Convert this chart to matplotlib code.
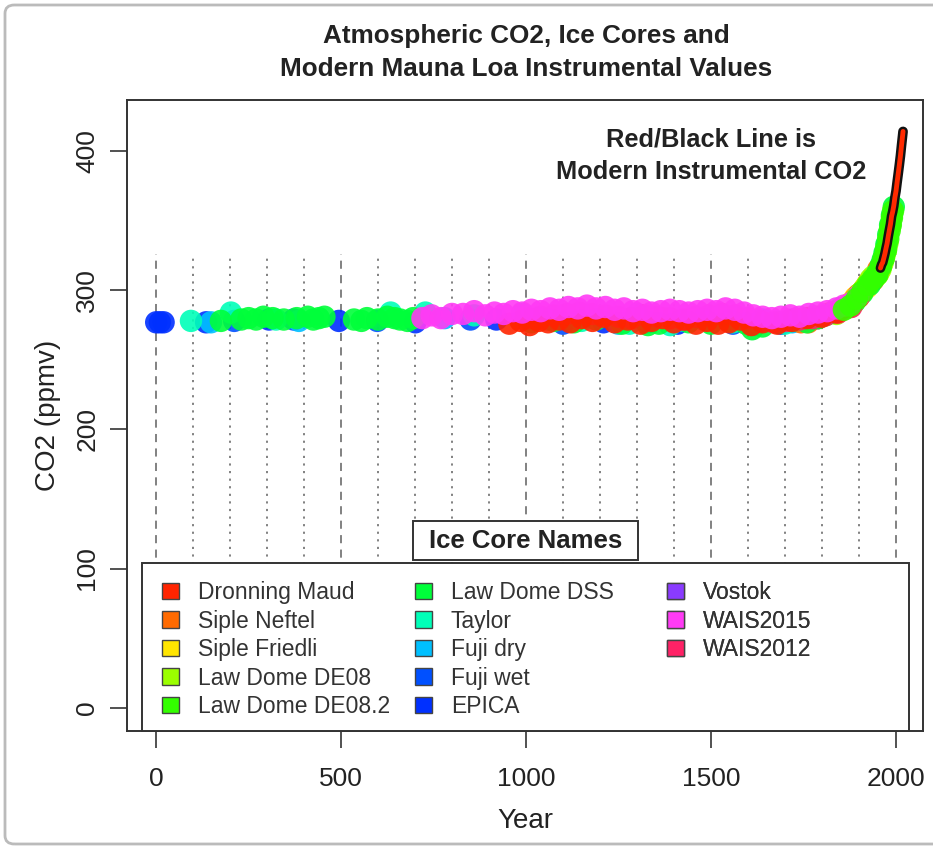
import matplotlib
matplotlib.use('Agg')
import matplotlib.pyplot as plt
from matplotlib.patches import Patch, Rectangle, FancyBboxPatch
import numpy as np

plt.rcParams['font.family'] = ['Liberation Sans', 'DejaVu Sans']

W, H = 933, 847

title = 'Atmospheric CO2, Ice Cores and\nModern Mauna Loa Instrumental Values'
note = 'Red/Black Line is\nModern Instrumental CO2'

names = ['Dronning Maud', 'Siple Neftel', 'Siple Friedli', 'Law Dome DE08',
         'Law Dome DE08.2', 'Law Dome DSS', 'Taylor', 'Fuji dry', 'Fuji wet',
         'EPICA', 'Vostok', 'WAIS2015', 'WAIS2012']
colors = ['#FF2400', '#FF6A00', '#FFE500', '#9BFF00', '#33FF00', '#00FF3A',
          '#00FFB8', '#00C0FF', '#0050FF', '#0030FF', '#8A3BFF', '#FF3BF5',
          '#FF2266']

# ice core samples (year, ppmv)
dm_year = [955, 985, 1010, 1035, 1060, 1090, 1120, 1150, 1180, 1210, 1240, 1275,
           1310, 1340, 1370, 1400, 1430, 1460, 1490, 1520, 1550, 1580, 1610,
           1640, 1680, 1720, 1760, 1800, 1840, 1870, 1900]
dm_co2 = [276, 278, 275, 278, 277, 279, 277, 280, 278, 281, 277, 279, 276, 278,
          280, 277, 279, 276, 278, 276, 277, 279, 275, 277, 276, 278, 280, 281,
          284, 288, 295]

neftel_year = [1744, 1764, 1791, 1816, 1834, 1863, 1879, 1891, 1900, 1915, 1925,
               1938, 1953]
neftel_co2 = [277, 277, 280, 283, 284, 287, 289, 294, 297, 301, 305, 307, 315]

friedli_year = [1734, 1756, 1773, 1789, 1807, 1826, 1841, 1857, 1873, 1883, 1891,
                1901, 1913, 1923, 1933, 1941, 1953]
friedli_co2 = [279, 278, 280, 281, 282, 284, 285, 287, 290, 292, 295, 297, 300,
               302, 306, 308, 313]

de08_year = [1840, 1850, 1865, 1877, 1887, 1892, 1900, 1905, 1912, 1920, 1926,
             1932, 1939, 1945, 1950, 1953, 1959, 1962, 1965, 1968, 1970, 1973,
             1975, 1978]
de08_co2 = [283, 285, 287, 288, 291, 294, 296, 298, 300, 303, 305, 308, 310, 310,
            311, 312, 315, 318, 320, 323, 325, 328, 331, 334]

de082_year = [1860, 1878, 1895, 1910, 1925, 1938, 1950, 1960, 1968, 1974, 1980,
              1984, 1987, 1990, 1993]
de082_co2 = [286, 289, 294, 299, 304, 308, 311, 317, 323, 329, 337, 343, 347,
             352, 357]

dss_year = [175, 230, 250, 270, 290, 315, 345, 380, 410, 425, 440, 455, 535, 555,
            570, 600, 625, 645, 660, 680, 695, 1015, 1075, 1130, 1190, 1260, 1330,
            1360, 1440, 1500, 1550, 1595, 1612, 1640, 1680, 1720, 1760, 1790,
            1810, 1830, 1850, 1870, 1890, 1910, 1930, 1940, 1950, 1960, 1965,
            1970, 1975, 1980, 1985, 1990, 1995]
dss_co2 = [278, 279, 280, 279, 281, 280, 279, 280, 281, 279, 280, 281, 279, 278,
           280, 279, 281, 280, 279, 278, 280, 277, 278, 277, 279, 276, 275, 276,
           277, 276, 278, 276, 272, 274, 277, 278, 277, 280, 282, 284, 286, 288,
           292, 298, 304, 308, 312, 318, 322, 327, 333, 340, 347, 354, 360]

taylor_year = [94, 202, 324, 634, 728, 860, 990, 1150, 1280, 1390, 1480, 1560,
               1700, 1780, 1850]
taylor_co2 = [278, 284, 279, 284, 284, 282, 283, 278, 276, 275, 279, 277, 276,
              281, 287]

fujid_year = [148, 386, 780, 1060, 1250, 1420, 1640, 1720]
fujid_co2 = [277, 278, 280, 279, 276, 278, 279, 277]

fujiw_year = [211, 372, 598, 850, 1100, 1330, 1560]
fujiw_co2 = [278, 279, 278, 279, 276, 277, 276]

epica_year = [0, 10, 20, 135, 305, 494, 701, 920, 1210, 1410, 1620, 1690, 1790]
epica_co2 = [277, 277, 277, 277, 279, 278, 277, 279, 277, 276, 275, 276, 280]

vostok_year = [1030, 1300, 1720]
vostok_co2 = [280, 283, 279]

wais15_year = [720, 745, 770, 800, 830, 860, 890, 915, 940, 965, 990, 1015, 1040,
               1065, 1090, 1115, 1140, 1165, 1190, 1215, 1240, 1265, 1290, 1315,
               1340, 1365, 1390, 1415, 1440, 1465, 1490, 1515, 1540, 1565, 1590,
               1615, 1640, 1665, 1690, 1715, 1740, 1765, 1790, 1815, 1840, 1860,
               1880, 1900]
wais15_co2 = [280, 282, 280, 283, 283, 285, 282, 284, 283, 285, 284, 286, 285,
              287, 286, 288, 287, 289, 287, 288, 286, 287, 285, 286, 284, 285,
              286, 285, 284, 285, 286, 285, 287, 286, 284, 282, 281, 280, 281,
              282, 281, 283, 284, 285, 287, 289, 291, 296]

wais12_year = [1005, 1040, 1075, 1110, 1145, 1180, 1215, 1250, 1285, 1320, 1355,
               1390, 1425, 1460, 1495, 1530, 1565, 1600, 1635, 1670, 1705, 1740,
               1775, 1810, 1845, 1880]
wais12_co2 = [280, 281, 282, 283, 284, 283, 282, 281, 280, 282, 281, 280, 279,
              281, 282, 283, 282, 280, 278, 277, 278, 279, 280, 282, 284, 288]

# Mauna Loa annual means
mlo_year = [1959, 1962, 1965, 1968, 1971, 1974, 1977, 1980, 1983, 1986, 1989,
            1992, 1995, 1998, 2001, 2004, 2007, 2010, 2013, 2016, 2019, 2020]
mlo_co2 = [316.0, 318.5, 320.0, 323.1, 326.3, 330.2, 333.8, 338.8, 343.2, 347.4,
           353.2, 356.5, 360.8, 366.8, 371.3, 377.7, 383.8, 390.1, 396.7, 404.4,
           411.7, 414.2]

years = [dm_year, neftel_year, friedli_year, de08_year, de082_year, dss_year,
         taylor_year, fujid_year, fujiw_year, epica_year, vostok_year,
         wais15_year, wais12_year]
values = [dm_co2, neftel_co2, friedli_co2, de08_co2, de082_co2, dss_co2,
          taylor_co2, fujid_co2, fujiw_co2, epica_co2, vostok_co2, wais15_co2,
          wais12_co2]
# drawing order, back to front
draw_order = [9, 8, 7, 6, 10, 2, 1, 3, 5, 12, 0, 11, 4]

guide_years = np.arange(0, 2001, 100)
x_ticks = [0, 500, 1000, 1500, 2000]
y_ticks = [0, 100, 200, 300, 400]

ink = '#222222'


def fx(px):
    return px / W


def fy(py):
    return 1 - py / H


fig = plt.figure(figsize=(W / 100, H / 100), dpi=100)
ax = fig.add_axes([fx(127), fy(731), fx(923) - fx(127), fy(100) - fy(731)])

# guide lines
for g in guide_years:
    ls = (0, (4.5, 3.5)) if g % 500 == 0 else (0, (1.2, 3.0))
    ax.plot([g, g], [-17, 326], color='#777777', lw=1.3, linestyle=ls, zorder=1)

for i in draw_order:
    ax.scatter(years[i], values[i], s=260, color=colors[i], alpha=0.9,
               edgecolors='none', zorder=3)

ax.plot(mlo_year, mlo_co2, color='#111111', lw=7, solid_capstyle='round', zorder=5)
ax.plot(mlo_year, mlo_co2, color='#FF2A00', lw=3.5, solid_capstyle='round', zorder=6)

ax.set_xlim(-79, 2074)
ax.set_ylim(-16.8, 436.8)
ax.set_xticks(x_ticks)
ax.set_yticks(y_ticks)
ax.set_yticklabels([str(v) for v in y_ticks], rotation=90, va='center')
ax.tick_params(axis='both', length=12, width=1.2, color='#333333',
               labelsize=19, labelcolor=ink)
ax.tick_params(axis='x', pad=14)
ax.tick_params(axis='y', pad=8)
for s in ax.spines.values():
    s.set_color('#333333')
    s.set_linewidth(1.4)

ax.set_xlabel('Year', fontsize=20, color=ink, labelpad=12)
ax.set_ylabel('CO2 (ppmv)', fontsize=20, color=ink, labelpad=10)

fig.text(fx(526), fy(52.5), title, ha='center', va='center', fontsize=18.8,
         fontweight='bold', color=ink, linespacing=1.45)
ax.text(fx(711), fy(156), note, transform=fig.transFigure, ha='center',
        va='center', fontsize=18.3, fontweight='bold', color=ink,
        linespacing=1.45, zorder=7)

# legend box and title box
ax.add_patch(Rectangle((fx(142), fy(731)), fx(909) - fx(142), fy(563) - fy(731),
                       transform=fig.transFigure, facecolor='white',
                       edgecolor='#333333', lw=1.4, zorder=8, clip_on=False))
ax.add_patch(Rectangle((fx(413), fy(560)), fx(638) - fx(413), fy(521) - fy(560),
                       transform=fig.transFigure, facecolor='white',
                       edgecolor='#333333', lw=1.4, zorder=8, clip_on=False))
ax.text(fx(525.5), fy(541), 'Ice Core Names', transform=fig.transFigure,
        ha='center', va='center', fontsize=18.5, fontweight='bold', color=ink,
        zorder=9)

col_x = [162, 415, 667]
for k in range(3):
    idx = range(k * 5, min(k * 5 + 5, len(names)))
    handles = [Patch(facecolor=colors[i], edgecolor='#444444', lw=1.0)
               for i in idx]
    labels = [names[i] for i in idx]
    leg = ax.legend(handles, labels, loc='upper left',
                    bbox_to_anchor=(fx(col_x[k]), fy(581)),
                    bbox_transform=fig.transFigure, frameon=False,
                    fontsize=16.5, handlelength=0.72, handleheight=0.72,
                    handletextpad=0.85, labelspacing=0.24, borderpad=0,
                    borderaxespad=0, labelcolor='#333333')
    leg.set_zorder(10)
    ax.add_artist(leg)

# outer picture frame
fig.add_artist(FancyBboxPatch((fx(5), fy(844)), fx(960) - fx(5), fy(5) - fy(844),
                              boxstyle='round,pad=0,rounding_size=0.01',
                              transform=fig.transFigure, facecolor='none',
                              edgecolor='#BBBBBB', lw=2.0, zorder=0))

fig.savefig('out.png', dpi=100)
